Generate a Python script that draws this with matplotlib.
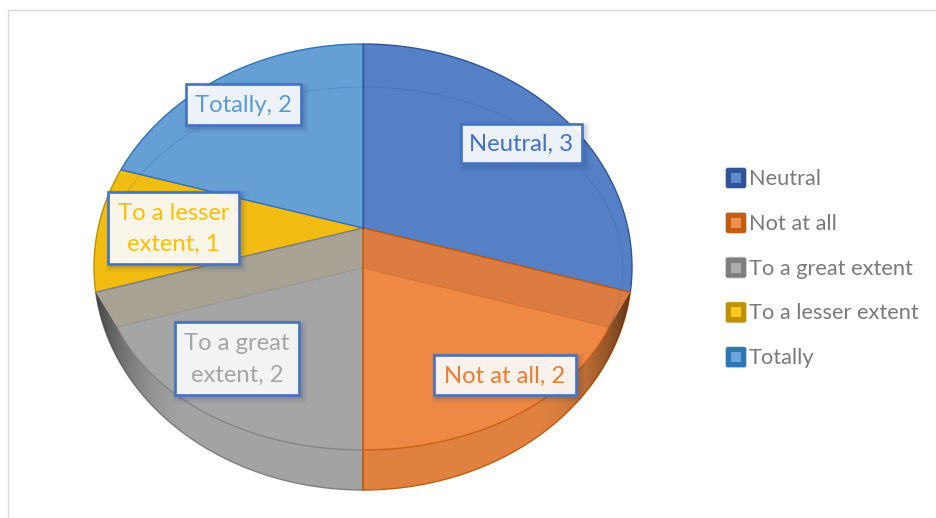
import numpy as np
import matplotlib
matplotlib.use("Agg")
import matplotlib.pyplot as plt
from matplotlib.patches import Polygon, Rectangle, FancyBboxPatch

plt.rcParams["font.family"] = ["Lato", "DejaVu Sans"]

categories = ["Neutral", "Not at all", "To a great extent", "To a lesser extent", "Totally"]
values = [3, 2, 2, 1, 2]
label_lines = ["Neutral, 3", "Not at all, 2", "To a great\nextent, 2", "To a lesser\nextent, 1", "Totally, 2"]

face_colors = ["#5580C6", "#EE8844", "#A5A5A5", "#F3BC12", "#659FD6"]
band_colors = ["#5580C6", "#DD7C40", "#A8A294", "#F3BC12", "#659FD6"]
wall_colors = ["#4472C4", "#E0823F", "#A3A3A3", "#FFC000", "#5B9BD5"]
edge_colors = ["#2F5597", "#C55A11", "#7F7F7F", "#BF9000", "#2E75B6"]
text_colors = ["#4472C4", "#ED7D31", "#A5A5A5", "#FFC000", "#5B9BD5"]
legend_inner = ["#5F8AD0", "#F0904F", "#ADADAD", "#FFC71E", "#6CA6DC"]

# label box left, top, right, bottom in pixels
label_boxes = [(461, 124, 582, 163), (434, 355, 576, 395), (175, 322, 299, 395),
               (108, 192, 239, 264), (186, 84, 301, 125)]

CX = 363
TOP_APEX = 228
FACE_APEX = 268
OUTER = (267, 269, 223)  # centre y, rx, ry
INNER = (268.5, 260, 181.5)
SQUASH = 0.74


def hit(apex_y, theta, ell):
    # point where a ray from the apex meets the ellipse
    cy, rx, ry = ell
    dx, dy = np.sin(theta), -np.cos(theta) * SQUASH
    oy = apex_y - cy
    a = (dx / rx) ** 2 + (dy / ry) ** 2
    b = 2 * oy * dy / ry ** 2
    c = (oy / ry) ** 2 - 1
    t = (-b + np.sqrt(b * b - 4 * a * c)) / (2 * a)
    return CX + t * dx, apex_y + t * dy


def arc(apex_y, t0, t1, ell):
    return [hit(apex_y, t, ell) for t in np.linspace(t0, t1, 80)]


fig = plt.figure(figsize=(9.36, 5.18), dpi=100)
ax = fig.add_axes([0, 0, 1, 1])

edges = np.cumsum([0] + values) / sum(values) * 2 * np.pi
is_front = [(a >= np.pi / 2 - 1e-6) and (b <= 3 * np.pi / 2 + 1e-6) for a, b in zip(edges[:-1], edges[1:])]

# side wall and top surface of every slice
for i, cat in enumerate(categories):
    t0, t1 = edges[i], edges[i + 1]
    pts = [(CX, TOP_APEX)] + arc(TOP_APEX, t0, t1, OUTER)
    if is_front[i]:
        wall = Polygon(pts, closed=True, fc=wall_colors[i], ec=edge_colors[i], lw=1.0)
        ax.add_patch(wall)
        xs = np.linspace(90, 640, 300)
        shade = np.zeros((1, 300, 4))
        shade[0, :, 3] = np.clip((np.abs(xs - CX) - 170) / 100, 0, 1) ** 2 * 0.6
        im = ax.imshow(shade, extent=(90, 640, 500, 30), aspect="auto", zorder=wall.get_zorder() + 0.1)
        im.set_clip_path(wall)
    else:
        ax.add_patch(Polygon(pts, closed=True, fc=face_colors[i], ec=edge_colors[i], lw=1.0, zorder=2))

for i, cat in enumerate(categories):
    if not is_front[i]:
        continue
    t0, t1 = edges[i], edges[i + 1]
    face = [(CX, FACE_APEX)] + arc(FACE_APEX, t0, t1, INNER)
    ax.add_patch(Polygon(face, closed=True, fc=face_colors[i], ec="none", zorder=3))
    ax.plot([p[0] for p in face[1:]], [p[1] for p in face[1:]], color=edge_colors[i], lw=1.0, alpha=0.85, zorder=3.2)
    # darker band between the two apexes, on the slice edge away from the seam
    side = t0 if abs(t0 - np.pi) > abs(t1 - np.pi) else t1
    out_pt = hit(TOP_APEX, side, OUTER)
    in_pt = hit(FACE_APEX, side, INNER)
    band = [(CX, TOP_APEX), out_pt, in_pt, (CX, FACE_APEX)]
    ax.add_patch(Polygon(band, closed=True, fc=band_colors[i], ec="none", zorder=3.1))
    ax.plot([CX, out_pt[0]], [TOP_APEX, out_pt[1]], color=edge_colors[i], lw=1.0, zorder=3.3)
    ax.plot([CX, in_pt[0]], [FACE_APEX, in_pt[1]], color=edge_colors[i], lw=0.6, alpha=0.4, zorder=3.3)

# vertical seams and the faint inner rim on the back slices
bottom = hit(TOP_APEX, np.pi, OUTER)
ax.plot([CX, CX], [TOP_APEX, bottom[1]], color="#C55A11", lw=1.2, zorder=4)
top = hit(TOP_APEX, 0, OUTER)
ax.plot([CX, CX], [TOP_APEX, top[1]], color="#2F5597", lw=1.0, zorder=4)
rim = arc(FACE_APEX, edges[4] + 0.03, 2 * np.pi + edges[1], INNER)
ax.plot([p[0] for p in rim], [p[1] for p in rim], color="#2F5597", lw=0.8, alpha=0.22, zorder=4)

# data labels
for i, (x0, y0, x1, y1) in enumerate(label_boxes):
    for grow, alpha in [(5, 0.05), (3, 0.07), (1, 0.1)]:
        ax.add_patch(Rectangle((x0 + 3 - grow, y0 + 3 - grow), x1 - x0 + 2 * grow, y1 - y0 + 2 * grow,
                               fc="#1F3864", ec="none", alpha=alpha, zorder=5))
    ax.add_patch(Rectangle((x0, y0), x1 - x0, y1 - y0, fc="white", ec="none", alpha=0.9, zorder=5.5))
    ax.add_patch(Rectangle((x0, y0), x1 - x0, y1 - y0, fc="none", ec="#4472C4", lw=1.9, zorder=5.6))
    ax.text((x0 + x1) / 2, (y0 + y1) / 2 + 1, label_lines[i], color=text_colors[i], fontsize=17.2,
            ha="center", va="center", linespacing=1.6, zorder=6)

# legend
for i, cat in enumerate(categories):
    y = 178 + i * 44.8
    ax.add_patch(FancyBboxPatch((725.5, y - 10.5), 21, 21, boxstyle="round,pad=0,rounding_size=2.5",
                                fc=edge_colors[i], ec="#DDDDDD", lw=0.5, zorder=5))
    ax.add_patch(Rectangle((731, y - 5), 10, 10, fc=legend_inner[i], ec="none", zorder=6))
    ax.text(749, y + 1, cat, color="#7A7A7A", fontsize=15.7, ha="left", va="center", zorder=6)

# chart frame, cut by the crop on the right and bottom
ax.plot([8, 8, 936], [518, 10, 10], color="#D9D9D9", lw=1.0, zorder=1)

ax.set_xlim(0, 936)
ax.set_ylim(518, 0)
ax.axis("off")
fig.savefig("out.png", dpi=100)
